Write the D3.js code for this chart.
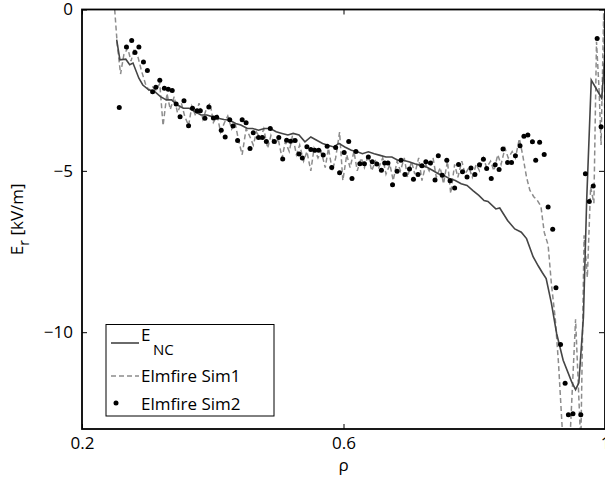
<!DOCTYPE html>
<html>
<head>
<meta charset="utf-8">
<script src="https://cdn.jsdelivr.net/npm/d3@7"></script>
<style>
  html, body { margin: 0; padding: 0; background: #fff; }
  svg { display: block; font-family: "Open Sans", "Noto Sans", sans-serif; }
</style>
</head>
<body>
<div id="chart"></div>
<script>
// E_NC (neoclassical) radial electric field, [rho, kV/m]
const encRho = [0.253, 0.258, 0.267, 0.273, 0.278, 0.287, 0.293, 0.302, 0.311, 0.320, 0.329, 0.337, 0.346, 0.355, 0.364, 0.373, 0.382, 0.391, 0.399, 0.408, 0.417, 0.426, 0.435, 0.443, 0.453, 0.461, 0.470, 0.479, 0.488, 0.497, 0.506, 0.515, 0.523, 0.532, 0.541, 0.550, 0.559, 0.568, 0.576, 0.585, 0.593, 0.602, 0.612, 0.621, 0.629, 0.638, 0.647, 0.656, 0.665, 0.674, 0.683, 0.691, 0.700, 0.709, 0.718, 0.727, 0.736, 0.745, 0.753, 0.762, 0.771, 0.780, 0.789, 0.798, 0.807, 0.815, 0.821, 0.833, 0.839, 0.851, 0.862, 0.872, 0.880, 0.890, 0.898, 0.904, 0.910, 0.918, 0.926, 0.936, 0.949, 0.955, 0.960, 0.967, 0.972, 0.979, 0.995, 1.000];
const encVal = [-0.93, -1.56, -1.54, -1.71, -1.66, -2.13, -2.34, -2.49, -2.54, -2.70, -2.80, -2.80, -2.96, -3.06, -3.06, -3.17, -3.27, -3.27, -3.32, -3.37, -3.41, -3.43, -3.53, -3.58, -3.69, -3.69, -3.74, -3.69, -3.69, -3.79, -3.84, -3.89, -3.84, -3.89, -4.10, -3.95, -4.05, -4.15, -4.21, -4.26, -4.15, -4.26, -4.36, -4.41, -4.47, -4.41, -4.47, -4.52, -4.57, -4.57, -4.67, -4.67, -4.72, -4.78, -4.83, -4.88, -4.98, -5.09, -5.14, -5.24, -5.30, -5.40, -5.45, -5.61, -5.76, -5.92, -5.95, -6.18, -6.15, -6.54, -6.80, -6.90, -7.10, -7.66, -7.95, -8.15, -8.34, -9.10, -10.04, -10.87, -11.54, -11.78, -11.57, -9.53, -5.90, -2.19, -2.75, -1.40];

// Elmfire Sim1 (dashed)
const sim1Rho = [0.250, 0.254, 0.259, 0.264, 0.270, 0.275, 0.280, 0.286, 0.291, 0.297, 0.302, 0.308, 0.313, 0.319, 0.324, 0.330, 0.335, 0.341, 0.346, 0.352, 0.357, 0.363, 0.368, 0.374, 0.379, 0.385, 0.390, 0.396, 0.401, 0.407, 0.412, 0.418, 0.423, 0.429, 0.434, 0.440, 0.445, 0.451, 0.456, 0.462, 0.467, 0.473, 0.478, 0.484, 0.489, 0.495, 0.500, 0.506, 0.511, 0.517, 0.522, 0.528, 0.533, 0.539, 0.544, 0.550, 0.555, 0.561, 0.566, 0.572, 0.577, 0.583, 0.588, 0.594, 0.599, 0.605, 0.610, 0.616, 0.621, 0.627, 0.632, 0.638, 0.643, 0.649, 0.654, 0.660, 0.665, 0.671, 0.676, 0.682, 0.687, 0.693, 0.698, 0.704, 0.709, 0.715, 0.720, 0.726, 0.731, 0.737, 0.742, 0.748, 0.753, 0.759, 0.764, 0.770, 0.775, 0.781, 0.786, 0.792, 0.797, 0.803, 0.808, 0.814, 0.819, 0.825, 0.830, 0.836, 0.841, 0.847, 0.852, 0.858, 0.863, 0.869, 0.874, 0.880, 0.885, 0.891, 0.896, 0.902, 0.907, 0.913, 0.918, 0.924, 0.929, 0.936, 0.946, 0.955, 0.963, 0.968, 0.973, 0.978, 0.983, 0.987, 0.991, 0.994, 0.998, 1.000];
const sim1Val = [0.0, -1.1, -2.0, -1.4, -1.2, -1.6, -1.2, -1.5, -1.9, -2.3, -2.5, -2.4, -2.5, -2.3, -3.6, -2.6, -3.1, -2.7, -3.2, -2.9, -3.3, -3.6, -3.0, -3.3, -2.9, -3.4, -3.1, -2.9, -3.5, -3.3, -3.8, -3.5, -3.3, -3.7, -3.5, -4.1, -4.5, -3.7, -3.9, -4.2, -3.8, -4.0, -3.7, -4.3, -3.9, -4.2, -4.0, -4.6, -4.1, -4.4, -3.9, -4.5, -4.2, -4.7, -4.4, -5.0, -4.3, -4.6, -4.4, -4.9, -4.3, -5.0, -4.6, -3.8, -5.3, -4.5, -4.9, -4.4, -5.0, -4.6, -4.9, -4.5, -5.0, -4.7, -4.9, -4.6, -5.1, -4.8, -5.3, -4.7, -5.0, -4.6, -5.2, -4.7, -5.1, -4.6, -5.3, -4.8, -5.0, -4.6, -5.2, -4.9, -5.4, -4.7, -5.7, -4.8, -5.2, -4.7, -5.1, -4.9, -5.2, -4.8, -5.0, -4.6, -4.9, -4.7, -5.0, -4.5, -4.8, -4.3, -4.6, -4.4, -4.6, -4.0, -4.5, -5.2, -5.6, -5.8, -5.9, -6.1, -6.9, -7.3, -8.5, -9.6, -11.0, -13.5, -13.5, -9.6, -13.5, -7.0, -8.3, -5.5, -6.0, -1.0, -2.5, -4.2, -0.1, -4.3];

// Elmfire Sim2 (dots)
const sim2Rho = [0.257, 0.268, 0.276, 0.281, 0.287, 0.294, 0.300, 0.308, 0.313, 0.319, 0.326, 0.332, 0.338, 0.344, 0.350, 0.356, 0.363, 0.369, 0.376, 0.381, 0.388, 0.394, 0.401, 0.406, 0.413, 0.419, 0.426, 0.431, 0.438, 0.445, 0.451, 0.457, 0.462, 0.470, 0.476, 0.482, 0.488, 0.494, 0.501, 0.507, 0.513, 0.519, 0.526, 0.532, 0.537, 0.544, 0.550, 0.556, 0.562, 0.569, 0.575, 0.582, 0.588, 0.594, 0.601, 0.608, 0.613, 0.619, 0.625, 0.632, 0.638, 0.644, 0.651, 0.658, 0.663, 0.668, 0.675, 0.682, 0.688, 0.694, 0.701, 0.707, 0.714, 0.720, 0.726, 0.733, 0.740, 0.745, 0.751, 0.758, 0.763, 0.770, 0.776, 0.782, 0.789, 0.795, 0.801, 0.808, 0.814, 0.819, 0.826, 0.832, 0.838, 0.844, 0.851, 0.857, 0.863, 0.870, 0.876, 0.882, 0.889, 0.894, 0.900, 0.907, 0.913, 0.920, 0.925, 0.932, 0.939, 0.944, 0.951, 0.963, 0.970, 0.976, 0.982, 0.988, 0.994];
const sim2Val = [-3.04, -1.16, -0.96, -1.33, -1.16, -1.63, -1.89, -2.55, -2.41, -2.19, -2.44, -2.47, -2.51, -2.93, -3.32, -2.83, -3.60, -3.06, -3.14, -3.14, -3.37, -3.02, -3.36, -3.34, -3.74, -3.95, -3.42, -3.61, -4.06, -3.42, -3.51, -4.31, -3.82, -3.97, -3.97, -4.09, -3.69, -4.09, -3.97, -4.63, -4.05, -4.08, -4.06, -4.48, -4.60, -4.25, -4.34, -4.36, -4.36, -4.51, -4.24, -4.90, -4.28, -5.06, -4.43, -4.09, -5.24, -4.40, -4.78, -4.78, -4.57, -4.72, -4.79, -4.98, -4.76, -4.76, -5.43, -5.01, -4.67, -5.11, -4.94, -5.26, -5.11, -4.84, -4.72, -4.76, -5.28, -4.53, -5.14, -4.67, -5.31, -5.53, -4.80, -5.03, -5.19, -4.91, -5.11, -4.81, -4.64, -4.93, -5.24, -4.81, -4.96, -4.32, -4.74, -4.74, -4.53, -4.22, -3.93, -3.89, -4.10, -4.67, -4.11, -4.49, -6.12, -6.81, -8.62, -10.38, -11.58, -12.56, -12.53, -12.56, -5.09, -5.95, -5.47, -0.90, -3.63];

const xTicks = [0.2, 0.6, 1];
const yTicks = [0, -5, -10];

const width = 605, height = 480;
const margin = { top: 9.5, right: 0, bottom: 51, left: 82 };

const svg = d3.select("#chart").append("svg")
    .attr("width", width)
    .attr("height", height);

const x = d3.scaleLinear().domain([0.2, 1]).range([margin.left, 605]);
const y = d3.scaleLinear().domain([-13, 0]).range([height - margin.bottom, margin.top]);

svg.append("defs").append("clipPath").attr("id", "plot")
  .append("rect")
    .attr("x", x(0.2)).attr("y", y(0))
    .attr("width", x(1) - x(0.2)).attr("height", y(-13) - y(0));

const plot = svg.append("g").attr("clip-path", "url(#plot)");

const line = d3.line().x(d => x(d[0])).y(d => y(d[1]));

// Sim1 dashed
plot.append("path")
    .datum(d3.zip(sim1Rho, sim1Val))
    .attr("fill", "none")
    .attr("stroke", "#8c8c8c")
    .attr("stroke-width", 1.5)
    .attr("stroke-dasharray", "5,3")
    .attr("d", line);

// E_NC solid
plot.append("path")
    .datum(d3.zip(encRho, encVal))
    .attr("fill", "none")
    .attr("stroke", "#454545")
    .attr("stroke-width", 1.6)
    .attr("d", line);

// Sim2 dots
plot.selectAll("circle.sim2")
  .data(d3.zip(sim2Rho, sim2Val))
  .join("circle")
    .attr("class", "sim2")
    .attr("cx", d => x(d[0]))
    .attr("cy", d => y(d[1]))
    .attr("r", 2.5)
    .attr("fill", "#000");

// Axes (ticks inside, MATLAB box style)
const fs = 17;
svg.append("g")
    .attr("transform", `translate(0,${y(-13)})`)
    .call(d3.axisBottom(x).tickValues(xTicks).tickFormat(d3.format("")).tickSizeInner(-5).tickSizeOuter(0).tickPadding(8));
svg.append("g")
    .attr("transform", `translate(${x(0.2)},0)`)
    .call(d3.axisLeft(y).tickValues(yTicks).tickFormat(d => d === 0 ? "0" : "\u2212" + Math.abs(d)).tickSizeInner(-5).tickSizeOuter(0).tickPadding(9));
svg.append("g")
    .attr("transform", `translate(0,${y(0)})`)
    .call(d3.axisTop(x).tickValues(xTicks).tickFormat("").tickSizeInner(-5).tickSizeOuter(0));
svg.append("g")
    .attr("transform", `translate(${x(1) - 1},0)`)
    .call(d3.axisRight(y).tickValues(yTicks).tickFormat("").tickSizeInner(-5).tickSizeOuter(0));

svg.selectAll(".domain").remove();
svg.selectAll(".tick line").attr("stroke", "#000").attr("stroke-width", 1);
svg.selectAll(".tick text").attr("font-size", fs).attr("fill", "#000").attr("font-family", "Open Sans, sans-serif");

// frame
svg.append("rect")
    .attr("x", x(0.2)).attr("y", y(0))
    .attr("width", x(1) - x(0.2)).attr("height", y(-13) - y(0))
    .attr("fill", "none").attr("stroke", "#000").attr("stroke-width", 1.8);

// axis titles
svg.append("text")
    .attr("x", x(0.6)).attr("y", 471)
    .attr("text-anchor", "middle")
    .attr("font-size", fs)
    .text("\u03C1");

const yl = svg.append("text")
    .attr("transform", `translate(23,${(y(0) + y(-13)) / 2}) rotate(-90)`)
    .attr("text-anchor", "middle")
    .attr("font-size", fs);
yl.append("tspan").text("E");
yl.append("tspan").attr("dy", 6).attr("font-size", 14).text("r");
yl.append("tspan").attr("dy", -6).text(" [kV/m]");

// legend
const lg = svg.append("g");
lg.append("rect")
    .attr("x", 106).attr("y", 324.5)
    .attr("width", 168).attr("height", 91.5)
    .attr("fill", "#fff").attr("stroke", "#000").attr("stroke-width", 1);

lg.append("line")
    .attr("x1", 111).attr("x2", 139).attr("y1", 343).attr("y2", 343)
    .attr("stroke", "#454545").attr("stroke-width", 1.6);
lg.append("text").attr("x", 141).attr("y", 341).attr("font-size", fs).text("E");
lg.append("text").attr("x", 153).attr("y", 355).attr("font-size", 15).text("NC");

lg.append("line")
    .attr("x1", 111).attr("x2", 139).attr("y1", 376).attr("y2", 376)
    .attr("stroke", "#8c8c8c").attr("stroke-width", 1.5).attr("stroke-dasharray", "5,3");
lg.append("text").attr("x", 141).attr("y", 382).attr("font-size", fs).text("Elmfire Sim1");

lg.append("circle").attr("cx", 116).attr("cy", 403).attr("r", 2.5).attr("fill", "#000");
lg.append("text").attr("x", 141).attr("y", 410).attr("font-size", fs).text("Elmfire Sim2");
</script>
</body>
</html>
